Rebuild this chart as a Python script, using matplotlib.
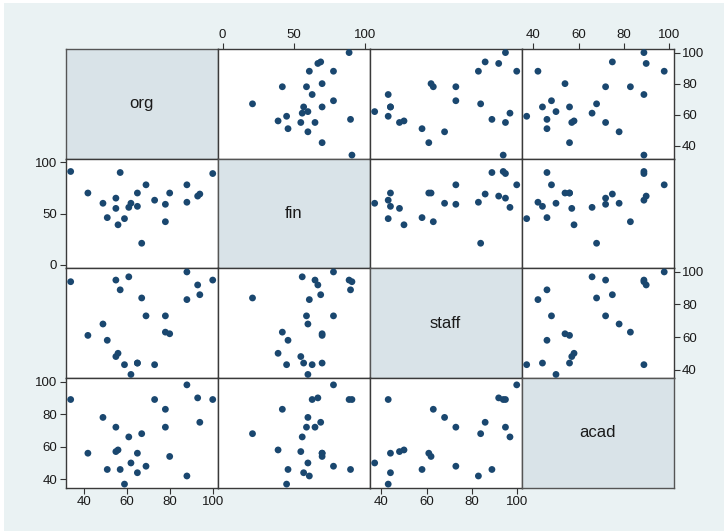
import matplotlib
matplotlib.use("Agg")
import matplotlib.pyplot as plt
from matplotlib.patches import Rectangle
import numpy as np

plt.rcParams['font.family'] = ['Liberation Sans', 'DejaVu Sans']

# ---- data (one entry per observation) ----
names = ["org", "fin", "staff", "acad"]
org   = [100, 94, 93, 88, 88, 80, 78, 78, 73, 69, 67, 65, 65, 62, 61, 59, 57, 55, 56, 55, 51, 49, 42, 34]
fin   = [89, 69, 67, 61, 78, 70, 59, 42, 63, 78, 21, 57, 70, 60, 56, 45, 90, 55, 39, 65, 46, 60, 70, 91]
staff = [95, 86, 92, 83, 100, 62, 73, 63, 43, 73, 84, 44, 44, 37, 97, 43, 89, 48, 50, 95, 58, 68, 61, 94]
acad  = [89, 75, 90, 42, 98, 54, 72, 83, 89, 48, 68, 44, 56, 50, 66, 37, 46, 57, 58, 72, 46, 78, 56, 89]

ticks = {
    "org":   [40, 60, 80, 100],
    "fin":   [0, 50, 100],
    "staff": [40, 60, 80, 100],
    "acad":  [40, 60, 80, 100],
}
data = {"org": org, "fin": fin, "staff": staff, "acad": acad}

BG = "#EAF2F3"
DIAG = "#D9E3E8"
MARK = "#1A476F"
EDGE = "#3a3a3a"

W, H = 724, 532
fig = plt.figure(figsize=(W / 100, H / 100), dpi=100)
fig.patch.set_facecolor("white")
fig.add_artist(Rectangle((4 / W, 1 / H), 1 - 4 / W, 1 - 4 / H,
                         transform=fig.transFigure, facecolor=BG,
                         edgecolor="none", zorder=-10))

left, right = 65.7 / W, 673.7 / W
top, bottom = 1 - 49 / H, 1 - 487.7 / H
n = len(names)
cw = (right - left) / n
ch = (top - bottom) / n


def limits(v):
    vals = list(data[v]) + list(ticks[v])
    lo, hi = min(vals), max(vals)
    pad = 0.035 * (hi - lo)
    return lo - pad, hi + pad


for i, rv in enumerate(names):      # row -> y variable
    for j, cv in enumerate(names):  # col -> x variable
        ax = fig.add_axes([left + j * cw, top - (i + 1) * ch, cw, ch])
        for s in ax.spines.values():
            s.set_color(EDGE)
            s.set_linewidth(1.0)
        ax.set_xticks([])
        ax.set_yticks([])
        if i == j:
            ax.set_facecolor(DIAG)
            for s in ax.spines.values():
                s.set_color("#555555")
            ax.text(0.5, 0.5, rv, transform=ax.transAxes, ha="center",
                    va="center", fontsize=12, color="#1a1a1a")
            continue
        ax.set_facecolor("white")
        ax.scatter(data[cv], data[rv], s=24, color=MARK, edgecolors="none",
                   zorder=3)
        ax.set_xlim(*limits(cv))
        ax.set_ylim(*limits(rv))
        ax.tick_params(length=4, width=0.8, color="#333333", labelsize=9.5,
                       pad=2, labelcolor="#1a1a1a")
        # x tick labels: cols 0,2 at bottom (on last row), cols 1,3 at top (on first row)
        if (j % 2 == 0 and i == n - 1) or (j % 2 == 1 and i == 0):
            ax.set_xticks(ticks[cv])
            if j % 2 == 1:
                ax.xaxis.set_ticks_position("top")
                ax.xaxis.set_label_position("top")
        # y tick labels: rows 0,2 at right (on last col), rows 1,3 at left (on first col)
        if (i % 2 == 0 and j == n - 1) or (i % 2 == 1 and j == 0):
            ax.set_yticks(ticks[rv])
            if i % 2 == 0:
                ax.yaxis.set_ticks_position("right")

fig.savefig("out.png", dpi=100, facecolor=fig.get_facecolor())
